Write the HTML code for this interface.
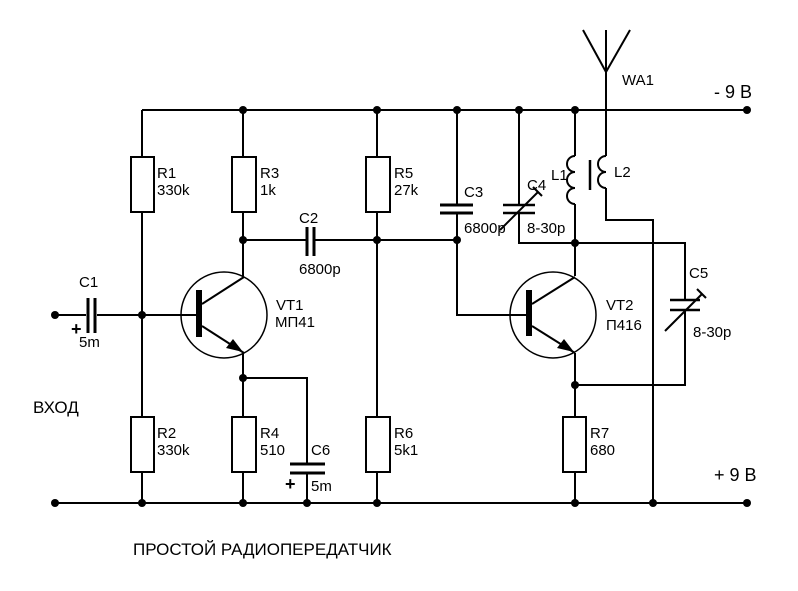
<!DOCTYPE html>
<html><head><meta charset="utf-8"><style>
html,body{margin:0;padding:0;background:#fff;}
svg{display:block;}
text{font-family:"Liberation Sans",sans-serif;fill:#000;}
</style></head><body>
<svg width="798" height="591" viewBox="0 0 798 591" xmlns="http://www.w3.org/2000/svg">
<g stroke="#000" stroke-width="2" fill="none">
<line x1="142" y1="110" x2="747" y2="110"/>
<line x1="55" y1="503" x2="747" y2="503"/>
<line x1="142" y1="110" x2="142" y2="157"/>
<rect x="131" y="157" width="23" height="55"/>
<line x1="142" y1="212" x2="142" y2="417"/>
<rect x="131" y="417" width="23" height="55"/>
<line x1="142" y1="472" x2="142" y2="503"/>
<line x1="55" y1="315" x2="86" y2="315"/>
<line x1="97" y1="315" x2="180" y2="315"/>
<line x1="88" y1="298" x2="88" y2="333" stroke-width="3"/>
<line x1="95" y1="298" x2="95" y2="333" stroke-width="3"/>
<line x1="243" y1="110" x2="243" y2="157"/>
<rect x="232" y="157" width="24" height="55"/>
<line x1="243" y1="212" x2="243" y2="276"/>
<line x1="243" y1="353" x2="243" y2="417"/>
<rect x="232" y="417" width="24" height="55"/>
<line x1="243" y1="472" x2="243" y2="503"/>
<circle cx="224" cy="315" r="43" stroke-width="1.5"/>
<line x1="180" y1="315" x2="198" y2="315"/>
<line x1="199" y1="290" x2="199" y2="337" stroke-width="6"/>
<line x1="202" y1="304" x2="244" y2="277"/>
<line x1="202" y1="326" x2="244" y2="353"/>
<line x1="243" y1="240" x2="306" y2="240"/>
<line x1="315" y1="240" x2="457" y2="240"/>
<line x1="307" y1="227" x2="307" y2="256" stroke-width="3"/>
<line x1="314" y1="227" x2="314" y2="256" stroke-width="3"/>
<polyline points="243,378 307,378 307,464"/>
<line x1="290" y1="464" x2="325" y2="464" stroke-width="3"/>
<line x1="290" y1="473" x2="325" y2="473" stroke-width="3"/>
<line x1="307" y1="473" x2="307" y2="503"/>
<line x1="377" y1="110" x2="377" y2="157"/>
<rect x="366" y="157" width="24" height="55"/>
<line x1="377" y1="212" x2="377" y2="417"/>
<rect x="366" y="417" width="24" height="55"/>
<line x1="377" y1="472" x2="377" y2="503"/>
<line x1="457" y1="110" x2="457" y2="204"/>
<line x1="440" y1="205" x2="473" y2="205" stroke-width="3"/>
<line x1="440" y1="213" x2="473" y2="213" stroke-width="3"/>
<polyline points="457,214 457,315 512,315"/>
<line x1="519" y1="110" x2="519" y2="205"/>
<line x1="503" y1="205" x2="535" y2="205" stroke-width="2.5"/>
<line x1="503" y1="213" x2="535" y2="213" stroke-width="2.5"/>
<polyline points="519,213 519,243 685,243 685,300"/>
<line x1="500" y1="230" x2="538" y2="192"/>
<line x1="533" y1="187" x2="542" y2="196"/>
<line x1="575" y1="110" x2="575" y2="156"/>
<path d="M575,156 a8,8 0 0 0 0,16 a8,8 0 0 0 0,16 a8,8 0 0 0 0,16"/>
<line x1="575" y1="204" x2="575" y2="276"/>
<line x1="590" y1="160" x2="590" y2="190" stroke-width="2.5"/>
<line x1="606" y1="30" x2="606" y2="156"/>
<line x1="583" y1="30" x2="606" y2="72"/>
<line x1="630" y1="30" x2="606" y2="72"/>
<path d="M606,156 a8,8 0 0 0 0,16 a8,8 0 0 0 0,16"/>
<polyline points="606,188 606,220 653,220 653,503"/>
<circle cx="553" cy="315" r="43" stroke-width="1.5"/>
<line x1="512" y1="315" x2="527" y2="315"/>
<line x1="529" y1="290" x2="529" y2="336" stroke-width="6"/>
<line x1="532" y1="304" x2="575" y2="277"/>
<line x1="532" y1="326" x2="575" y2="353"/>
<line x1="575" y1="353" x2="575" y2="417"/>
<rect x="563" y="417" width="23" height="55"/>
<line x1="575" y1="472" x2="575" y2="503"/>
<line x1="670" y1="300" x2="700" y2="300" stroke-width="2.5"/>
<line x1="670" y1="310" x2="700" y2="310" stroke-width="2.5"/>
<polyline points="685,310 685,385 575,385"/>
<line x1="665" y1="331" x2="702" y2="294"/>
<line x1="697" y1="289" x2="706" y2="298"/>
</g>
<polygon points="243,352 226,348 233,339" fill="#000"/>
<polygon points="574,352 557,348 564,339" fill="#000"/>
<g fill="#000">
<circle cx="243" cy="110" r="4"/><circle cx="377" cy="110" r="4"/><circle cx="457" cy="110" r="4"/>
<circle cx="519" cy="110" r="4"/><circle cx="575" cy="110" r="4"/><circle cx="747" cy="110" r="4"/>
<circle cx="55" cy="503" r="4"/><circle cx="142" cy="503" r="4"/><circle cx="243" cy="503" r="4"/>
<circle cx="307" cy="503" r="4"/><circle cx="377" cy="503" r="4"/><circle cx="575" cy="503" r="4"/>
<circle cx="653" cy="503" r="4"/><circle cx="747" cy="503" r="4"/>
<circle cx="55" cy="315" r="4"/><circle cx="142" cy="315" r="4"/>
<circle cx="243" cy="240" r="4"/><circle cx="377" cy="240" r="4"/><circle cx="457" cy="240" r="4"/>
<circle cx="243" cy="378" r="4"/><circle cx="575" cy="243" r="4"/><circle cx="575" cy="385" r="4"/>
</g>
<g font-size="15">
<text x="157" y="178">R1</text><text x="157" y="195">330k</text>
<text x="260" y="178">R3</text><text x="260" y="195">1k</text>
<text x="394" y="178">R5</text><text x="394" y="195">27k</text>
<text x="157" y="438">R2</text><text x="157" y="455">330k</text>
<text x="260" y="438">R4</text><text x="260" y="455">510</text>
<text x="394" y="438">R6</text><text x="394" y="455">5k1</text>
<text x="590" y="438">R7</text><text x="590" y="455">680</text>
<text x="299" y="223">C2</text><text x="299" y="274">6800p</text>
<text x="79" y="287">C1</text><text x="79" y="347">5m</text>
<text x="311" y="455">C6</text><text x="311" y="491">5m</text>
<text x="276" y="310">VT1</text><text x="275" y="327">МП41</text>
<text x="606" y="310">VT2</text><text x="606" y="330">П416</text>
<text x="464" y="197">C3</text><text x="464" y="233">6800p</text>
<text x="527" y="190">C4</text><text x="527" y="233">8-30p</text>
<text x="551" y="180">L1</text><text x="614" y="177">L2</text>
<text x="689" y="278">C5</text><text x="693" y="337">8-30p</text>
<text x="622" y="85">WA1</text>
</g>
<g font-size="18" font-weight="bold">
<text x="71" y="335">+</text>
<text x="285" y="490">+</text>
</g>
<text x="714" y="98" font-size="18">- 9 В</text>
<text x="714" y="481" font-size="18">+ 9 В</text>
<text x="33" y="413" font-size="17">ВХОД</text>
<text x="133" y="555" font-size="17">ПРОСТОЙ РАДИОПЕРЕДАТЧИК</text>
</svg>
</body></html>
